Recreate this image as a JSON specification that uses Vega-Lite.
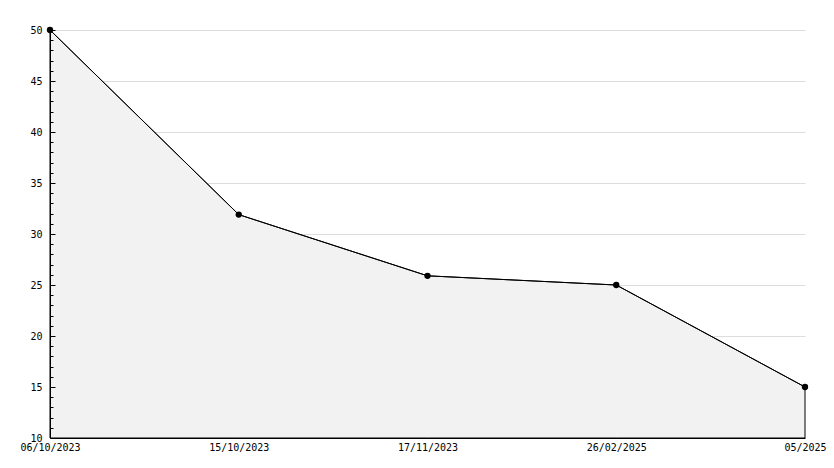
{
  "$schema": "https://vega.github.io/schema/vega-lite/v6.json",
  "width": 755,
  "height": 408,
  "autosize": {"type": "none"},
  "padding": {"left": 50, "top": 30, "right": 29, "bottom": 30},
  "background": "white",
  "config": {
    "view": {"stroke": null},
    "axis": {"labelFont": "DejaVu Sans Mono", "labelFontSize": 10, "labelColor": "#000", "titleFont": "DejaVu Sans Mono"}
  },
  "data": {"values": [
    {"date": "06/10/2023", "value": 50},
    {"date": "15/10/2023", "value": 31.9},
    {"date": "17/11/2023", "value": 25.9},
    {"date": "26/02/2025", "value": 25},
    {"date": "05/2025", "value": 15}
  ]},
  "encoding": {
    "x": {"field": "date", "type": "ordinal", "sort": null,
      "scale": {"type": "point", "padding": 0},
      "axis": {"title": null, "labelAngle": 0, "ticks": false, "domainColor": "#000", "labelPadding": 4, "grid": false, "zindex": 1}}
  },
  "layer": [
    {
      "mark": {"type": "area", "fill": "#f2f2f2", "stroke": "#000", "strokeWidth": 1},
      "encoding": {
        "y": {"field": "value", "type": "quantitative",
          "scale": {"domain": [10, 50], "nice": false, "zero": false},
          "axis": {"title": null, "values": [15,20,25,30,35,40,45,50], "grid": true, "gridColor": "#dddddd", "labels": false, "ticks": false, "domain": false, "zindex": 0, "orient": "left"}},
        "y2": {"datum": 10}
      }
    },
    {
      "mark": {"type": "point", "filled": true, "shape": "circle", "size": 40, "color": "#000", "opacity": 1},
      "encoding": {
        "y": {"field": "value", "type": "quantitative",
          "scale": {"domain": [10, 50], "nice": false, "zero": false},
          "axis": {"title": null, "values": [10,15,20,25,30,35,40,45,50], "grid": false, "domainColor": "#000", "tickColor": "#000", "tickSize": -5, "labelPadding": 13, "zindex": 1, "orient": "left"}}
      }
    },
    {
      "mark": {"type": "line", "stroke": "#000", "strokeWidth": 1},
      "encoding": {
        "y": {"field": "value", "type": "quantitative",
          "scale": {"domain": [10, 50], "nice": false, "zero": false},
          "axis": {"title": null, "values": [11,12,13,14,16,17,18,19,21,22,23,24,26,27,28,29,31,32,33,34,36,37,38,39,41,42,43,44,46,47,48,49], "grid": false, "labels": false, "domain": false, "tickColor": "#000", "tickSize": -3, "zindex": 1, "orient": "left"}}
      }
    }
  ],
  "resolve": {"axis": {"y": "independent"}}
}
